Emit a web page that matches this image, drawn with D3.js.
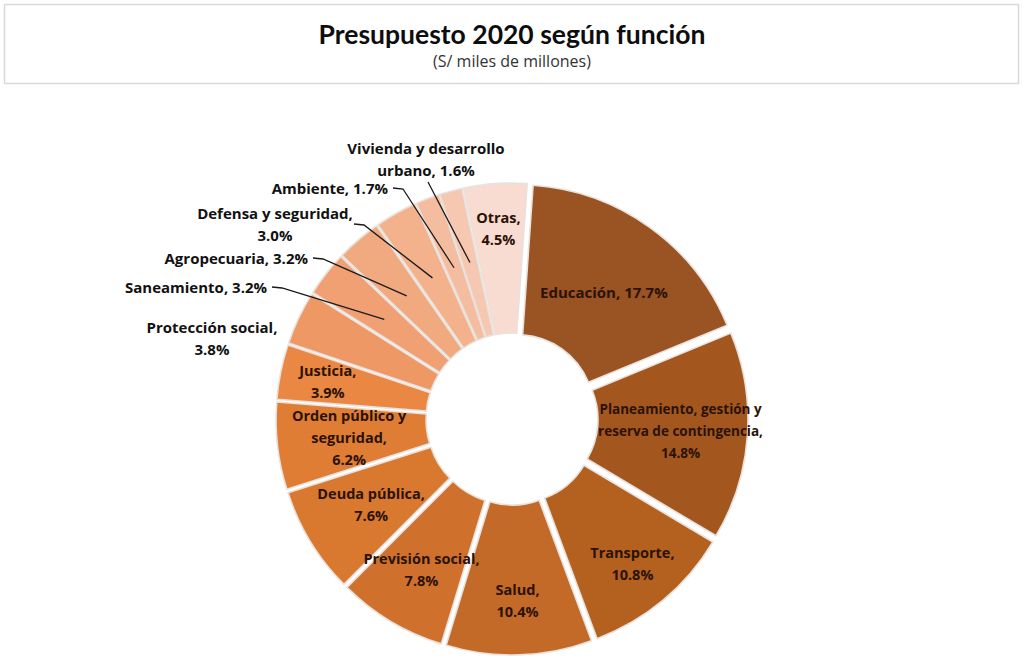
<!DOCTYPE html>
<html lang="es">
<head>
<meta charset="utf-8">
<script src="https://cdn.jsdelivr.net/npm/d3@7"></script>
<style>
  html, body { margin: 0; padding: 0; background: #ffffff; }
  svg { display: block; }
</style>
</head>
<body>
<svg id="chart" width="1024" height="661"></svg>
<script>
// Presupuesto 2020 por función (% del total)
const categories = [
  "Educación",
  "Planeamiento, gestión y reserva de contingencia",
  "Transporte",
  "Salud",
  "Previsión social",
  "Deuda pública",
  "Orden público y seguridad",
  "Justicia",
  "Protección social",
  "Saneamiento",
  "Agropecuaria",
  "Defensa y seguridad",
  "Ambiente",
  "Vivienda y desarrollo urbano",
  "Otras"
];
const shares = [17.7, 14.8, 10.8, 10.4, 7.8, 7.6, 6.2, 3.9, 3.8, 3.2, 3.2, 3.0, 1.7, 1.6, 4.5];
const sliceColors = [
  "#9a5322", "#a3571f", "#b4611f", "#c46a28", "#cf712c", "#d8792f", "#e07d34",
  "#ea8742", "#ee9866", "#f0a073", "#f1a97f", "#f3b28c", "#f4bda0", "#f6c7b1", "#f8dcd1"
];

const title = "Presupuesto 2020 según función";
const subtitle = "(S/ miles de millones)";

const svg = d3.select("#chart");

// Title box
svg.append("rect")
  .attr("x", 4.5).attr("y", 4.5).attr("width", 1014).attr("height", 79)
  .attr("fill", "#ffffff").attr("stroke", "#d9d9d9").attr("stroke-width", 1.5);
svg.append("text")
  .attr("x", 512).attr("y", 34)
  .attr("text-anchor", "middle").attr("dominant-baseline", "central")
  .attr("font-family", "Lato, 'Open Sans', sans-serif")
  .attr("font-weight", 700).attr("font-size", 26.5).attr("fill", "#0d0d0d")
  .text(title);
svg.append("text")
  .attr("x", 512).attr("y", 61)
  .attr("text-anchor", "middle").attr("dominant-baseline", "central")
  .attr("font-family", "'Open Sans', sans-serif")
  .attr("font-size", 16).attr("fill", "#333333")
  .text(subtitle);

// Doughnut geometry
const cx = 512, cy = 419;
const innerR = 77, outerR = 227, explode = 9;
const rot = 4 * Math.PI / 180;

const data = categories.map((c, i) => ({ name: c, value: shares[i], color: sliceColors[i] }));

const pie = d3.pie().sort(null).value(d => d.value)
  .startAngle(rot).endAngle(rot + 2 * Math.PI);
const arcs = pie(data);
const arc = d3.arc().innerRadius(innerR).outerRadius(outerR);

const mid = a => (a.startAngle + a.endAngle) / 2;
const polar = (ang, r) => [cx + Math.sin(ang) * r, cy - Math.cos(ang) * r];

const g = svg.append("g");
g.selectAll("path.slice")
  .data(arcs)
  .join("path")
  .attr("class", "slice")
  .attr("d", arc)
  .attr("transform", a => {
    const m = mid(a);
    return `translate(${cx + Math.sin(m) * explode},${cy - Math.cos(m) * explode})`;
  })
  .attr("fill", a => a.data.color)
  .attr("stroke", "#e9e1dc")
  .attr("stroke-width", 1.6)
  .attr("stroke-linejoin", "round");

// Label text: name lines, value either appended to the last line or on its own line
function labelLines(name, value, breaks, inlineValue) {
  const lines = (breaks ? breaks : [name]).slice();
  const pct = value.toFixed(1) + "%";
  if (inlineValue) lines[lines.length - 1] += ", " + pct;
  else { lines[lines.length - 1] += ","; lines.push(pct); }
  return lines;
}

// Labels placed inside their slice, at a chosen radius along the bisector
const insideLayout = {
  "Educación": { r: 157, inline: true, size: 15 },
  "Planeamiento, gestión y reserva de contingencia": { r: 169, breaks: ["Planeamiento, gestión y", "reserva de contingencia"], size: 13.5 },
  "Transporte": { r: 188 },
  "Salud": { r: 182 },
  "Previsión social": { r: 176 },
  "Deuda pública": { r: 165 },
  "Orden público y seguridad": { r: 164, breaks: ["Orden público y", "seguridad"] },
  "Justicia": { r: 188 },
  "Otras": { r: 191 }
};

// Labels placed outside, joined to their slice with a leader line
const outsideLayout = {
  "Protección social": { x: 212, y: 327, anchor: "middle" },
  "Saneamiento": { x: 267, y: 287, anchor: "end", inline: true, elbow: true },
  "Agropecuaria": { x: 308, y: 258, anchor: "end", inline: true, elbow: true },
  "Defensa y seguridad": { x: 275, y: 213, anchor: "middle", lead: [354, 224], elbow: true },
  "Ambiente": { x: 388, y: 188, anchor: "end", inline: true, elbow: true },
  "Vivienda y desarrollo urbano": { x: 426, y: 148, anchor: "middle", breaks: ["Vivienda y desarrollo", "urbano"], inline: true, lead: [428, 182] }
};

const lineH = 22;
const fontFam = "'Open Sans', sans-serif";

function drawText(x, y, lines, anchor, fill, shift, size) {
  const t = svg.append("text")
    .attr("text-anchor", anchor)
    .attr("font-family", fontFam)
    .attr("font-weight", 700)
    .attr("font-size", size)
    .attr("fill", fill);
  lines.forEach((ln, i) => {
    t.append("tspan")
      .attr("x", x)
      .attr("y", y + (i - shift) * lineH)
      .attr("dominant-baseline", "central")
      .text(ln);
  });
}

arcs.forEach(a => {
  const d = a.data;
  const m = mid(a);
  if (insideLayout[d.name]) {
    const L = insideLayout[d.name];
    const lines = labelLines(d.name, d.value, L.breaks, L.inline);
    const [x, y] = polar(m, L.r);
    drawText(x, y, lines, "middle", "#2b1206", (lines.length - 1) / 2, L.size || 14.5);
  } else if (outsideLayout[d.name]) {
    const L = outsideLayout[d.name];
    const lines = labelLines(d.name, d.value, L.breaks, L.inline);
    drawText(L.x, L.y, lines, L.anchor, "#111111", 0, 15);
    if (L.elbow || L.lead) {
      const end = polar(m, 153 + explode);
      const start = L.lead ? L.lead : [L.x + 5, L.y];
      const pts = [start];
      if (L.elbow) pts.push([start[0] + 10, start[1] + 1]);
      pts.push(end);
      svg.append("path")
        .attr("d", d3.line()(pts))
        .attr("fill", "none")
        .attr("stroke", "#1a1a1a")
        .attr("stroke-width", 1.3);
    }
  }
});
</script>
</body>
</html>
